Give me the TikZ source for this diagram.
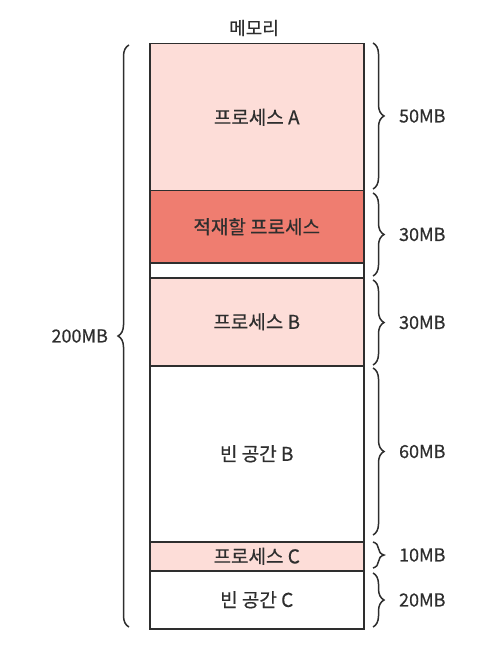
\documentclass[tikz,border=0pt]{standalone}
\usepackage{fontspec}
\setmainfont{Noto Sans CJK KR}[FakeBold=0.5]
\usetikzlibrary{decorations.pathreplacing}
\definecolor{procpink}{HTML}{FDDDD8}
\definecolor{loadred}{HTML}{EF7D70}
\definecolor{inkgray}{HTML}{2E2E2E}
\tikzset{
    block/.style={draw=inkgray, line width=1.5pt, minimum width=214pt, anchor=north west, inner sep=0pt, text=inkgray, font=\fontsize{19}{22}\selectfont},
    sizebrace/.style={decorate, decoration={brace, amplitude=11pt}, draw=inkgray, line width=1.5pt},
    sizelabel/.style={font=\fontsize{18}{21}\selectfont, text=inkgray}
}
\begin{document}
\begin{tikzpicture}[x=1pt, y=-1pt]
                \useasboundingbox (0, 0) rectangle (488, 652);
                \node[font=\fontsize{18}{21}\selectfont, text=inkgray] (mem) at (254, 28) {메모리};

                \node[block, fill=procpink, minimum height=147pt] (pA) at (149, 43) {프로세스 A};
                \node[block, fill=loadred, minimum height=72pt] (pLoad) at (149, 190) {적재할 프로세스};
                \node[block, fill=white, minimum height=15pt] (gap) at (149, 262) {};
                \node[block, fill=procpink, minimum height=88pt] (pB) at (149, 277) {프로세스 B};
                \node[block, fill=white, minimum height=176pt] (freeB) at (149, 365) {빈 공간 B};
                \node[block, fill=procpink, minimum height=29pt] (pC) at (149, 541) {프로세스 C};
                \node[block, fill=white, minimum height=58pt] (freeC) at (149, 570) {빈 공간 C};

                \coordinate (rA1) at (373, 43);   \coordinate (rA2) at (373, 189);
                \coordinate (rL1) at (373, 193);  \coordinate (rL2) at (373, 276);
                \coordinate (rB1) at (373, 280);  \coordinate (rB2) at (373, 365);
                \coordinate (rF1) at (373, 368);  \coordinate (rF2) at (373, 535);
                \coordinate (rC1) at (373, 542);  \coordinate (rC2) at (373, 568);
                \coordinate (rG1) at (373, 573);  \coordinate (rG2) at (373, 627);

                \foreach \a/\b/\t in {rA1/rA2/50MB, rL1/rL2/30MB, rB1/rB2/30MB, rF1/rF2/60MB, rC1/rC2/10MB, rG1/rG2/20MB}
                    {
                        \draw[sizebrace] (\a) -- (\b) node[midway, right=22pt, sizelabel]{\t};
                    }

                \coordinate (lTop) at (129, 45);
                \coordinate (lBot) at (129, 627);
                \draw[sizebrace] (lBot) -- (lTop) node[midway, left=17pt, sizelabel](total){200MB};
            \end{tikzpicture}
\end{document}
